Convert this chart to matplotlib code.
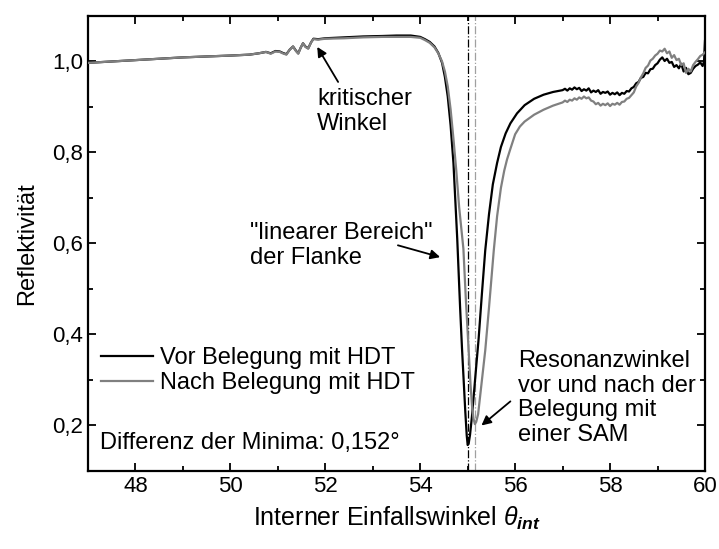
import matplotlib
matplotlib.use("Agg")
import matplotlib.pyplot as plt
from matplotlib.ticker import MultipleLocator, FuncFormatter
from matplotlib.lines import Line2D

plt.rcParams['font.family'] = ['Liberation Sans', 'DejaVu Sans']
plt.rcParams['mathtext.fontset'] = 'custom'
plt.rcParams['mathtext.rm'] = 'Liberation Sans'
plt.rcParams['mathtext.it'] = 'Liberation Sans:italic'
plt.rcParams['mathtext.bf'] = 'Liberation Sans:bold'
plt.rcParams['mathtext.bfit'] = 'Liberation Sans:bold:italic'

# Reflectivity before HDT coating (angle in degrees, reflectivity)
angle_before = [
    47.0, 47.5, 48.0, 48.5, 49.0, 49.5, 50.0, 50.4, 50.6, 50.75, 50.85, 50.95,
    51.04, 51.1, 51.18, 51.25, 51.32, 51.38, 51.43, 51.48, 51.53, 51.58, 51.64,
    51.7, 51.75, 51.85, 52.0, 52.4, 52.8, 53.2, 53.5, 53.8, 54.0, 54.1, 54.2,
    54.3, 54.38, 54.46, 54.52, 54.58, 54.64, 54.70, 54.78, 54.84, 54.88, 54.92,
    54.95, 54.98, 55.0, 55.02, 55.05, 55.09, 55.13, 55.18, 55.23, 55.30, 55.37,
    55.45, 55.53, 55.62, 55.70, 55.80, 55.90, 56.04, 56.2, 56.4, 56.6, 56.8,
    57.0, 57.05, 57.1, 57.15, 57.2, 57.25, 57.3, 57.35, 57.4, 57.45, 57.5,
    57.55, 57.6, 57.65, 57.7, 57.75, 57.8, 57.85, 57.9, 57.95, 58.0, 58.05,
    58.1, 58.15, 58.2, 58.25, 58.3, 58.35, 58.4, 58.45, 58.5, 58.55, 58.6,
    58.65, 58.7, 58.75, 58.8, 58.85, 58.9, 58.95, 59.0, 59.05, 59.1, 59.15,
    59.2, 59.25, 59.3, 59.35, 59.4, 59.45, 59.5, 59.55, 59.6, 59.65, 59.7,
    59.75, 59.8, 59.85, 59.9, 59.95, 59.98, 60.0,
]
refl_before = [
    0.997, 1.000, 1.003, 1.006, 1.009, 1.011, 1.013, 1.015, 1.018, 1.021, 1.018, 1.023,
    1.022, 1.019, 1.016, 1.026, 1.033, 1.024, 1.018, 1.030, 1.040, 1.033, 1.029,
    1.042, 1.050, 1.049, 1.051, 1.053, 1.055, 1.056, 1.057, 1.057, 1.054, 1.049, 1.043,
    1.033, 1.019, 0.997, 0.966, 0.923, 0.860, 0.777, 0.610, 0.460, 0.370, 0.290,
    0.230, 0.178, 0.157, 0.160, 0.180, 0.220, 0.270, 0.330, 0.390, 0.490, 0.585,
    0.665, 0.730, 0.777, 0.812, 0.842, 0.864, 0.886, 0.904, 0.918, 0.927, 0.933,
    0.937, 0.940, 0.936, 0.941, 0.938, 0.943, 0.939, 0.942, 0.935, 0.939, 0.936,
    0.941, 0.932, 0.936, 0.933, 0.937, 0.929, 0.933, 0.931, 0.934, 0.927, 0.931,
    0.928, 0.932, 0.926, 0.931, 0.929, 0.935, 0.934, 0.941, 0.944, 0.952, 0.955,
    0.964, 0.966, 0.975, 0.974, 0.983, 0.984, 0.992, 0.996, 1.004, 1.009, 1.001,
    1.006, 0.997, 0.999, 0.988, 0.992, 0.985, 0.995, 0.978, 0.986, 0.972, 0.975,
    0.984, 0.990, 0.993, 0.998, 0.990, 1.000, 1.045,
]

# Reflectivity after HDT coating
angle_after = [
    47.0, 47.5, 48.0, 48.5, 49.0, 49.5, 50.0, 50.4, 50.6, 50.75, 50.85, 50.95,
    51.04, 51.1, 51.18, 51.25, 51.32, 51.38, 51.43, 51.48, 51.53, 51.58, 51.64,
    51.7, 51.75, 51.85, 52.0, 52.4, 52.8, 53.2, 53.5, 53.8, 54.0, 54.1, 54.2,
    54.3, 54.38, 54.46, 54.52, 54.58, 54.64, 54.70, 54.76, 54.82, 54.86, 54.91,
    54.96, 55.02, 55.06, 55.09, 55.12, 55.152, 55.18, 55.22, 55.30, 55.37, 55.45,
    55.55, 55.62, 55.70, 55.77, 55.83, 55.90, 56.0, 56.1, 56.2, 56.4, 56.6, 56.8,
    57.0, 57.05, 57.1, 57.15, 57.2, 57.25, 57.3, 57.35, 57.4, 57.45, 57.5,
    57.55, 57.6, 57.65, 57.7, 57.75, 57.8, 57.85, 57.9, 57.95, 58.0, 58.05,
    58.1, 58.15, 58.2, 58.25, 58.3, 58.35, 58.4, 58.45, 58.5, 58.55, 58.6,
    58.65, 58.7, 58.75, 58.8, 58.85, 58.9, 58.95, 59.0, 59.05, 59.1, 59.15,
    59.2, 59.25, 59.3, 59.35, 59.4, 59.45, 59.5, 59.55, 59.6, 59.65, 59.7,
    59.75, 59.8, 59.85, 59.9, 59.95, 60.0,
]
refl_after = [
    0.997, 1.000, 1.003, 1.006, 1.009, 1.011, 1.013, 1.015, 1.018, 1.021, 1.017, 1.022,
    1.021, 1.018, 1.015, 1.026, 1.033, 1.023, 1.017, 1.030, 1.040, 1.032, 1.028,
    1.042, 1.049, 1.048, 1.050, 1.051, 1.053, 1.054, 1.054, 1.054, 1.052, 1.047, 1.041,
    1.031, 1.018, 1.000, 0.978, 0.945, 0.895, 0.830, 0.760, 0.680, 0.640, 0.588,
    0.480, 0.365, 0.290, 0.245, 0.216, 0.203, 0.208, 0.225, 0.300, 0.365, 0.460,
    0.585, 0.660, 0.722, 0.760, 0.785, 0.808, 0.840, 0.857, 0.868, 0.883, 0.894, 0.903,
    0.910, 0.914, 0.911, 0.916, 0.914, 0.919, 0.916, 0.921, 0.918, 0.923, 0.919,
    0.921, 0.914, 0.912, 0.906, 0.909, 0.903, 0.907, 0.904, 0.908, 0.902, 0.907,
    0.905, 0.909, 0.905, 0.911, 0.912, 0.918, 0.920, 0.926, 0.932, 0.945, 0.953,
    0.965, 0.974, 0.986, 0.991, 1.002, 1.006, 1.013, 1.017, 1.024, 1.022, 1.028,
    1.018, 1.022, 1.008, 1.014, 1.003, 1.006, 0.992, 0.996, 0.975, 0.984, 0.978,
    0.992, 0.999, 1.005, 1.012, 1.015, 1.020,
]

# Resonance angles (minima) before / after
min_before = 55.0
min_after = 55.152

label_before = "Vor Belegung mit HDT"
label_after = "Nach Belegung mit HDT"
diff_text = "Differenz der Minima: 0,152°"

fig = plt.figure(figsize=(7.19, 5.49), dpi=100)
ax = fig.add_axes([0.1224, 0.1421, 0.8581, 0.8288])

ax.plot(angle_before, refl_before, color='black', lw=1.6, zorder=3)
ax.plot(angle_after, refl_after, color='#808080', lw=1.6, zorder=4)

ax.axvline(min_before, color='black', lw=0.9, ls='-.', zorder=2)
ax.axvline(min_after, color='#a0a0a0', lw=0.9, ls='-.', zorder=2)

ax.set_xlim(47, 60)
ax.set_ylim(0.1, 1.1)

ax.xaxis.set_major_locator(MultipleLocator(2))
ax.xaxis.set_minor_locator(MultipleLocator(1))
ax.yaxis.set_major_locator(MultipleLocator(0.2))
ax.yaxis.set_minor_locator(MultipleLocator(0.1))
ax.yaxis.set_major_formatter(FuncFormatter(lambda v, p: f"{v:.1f}".replace('.', ',')))
ax.xaxis.set_major_formatter(FuncFormatter(lambda v, p: f"{v:.0f}"))

ax.tick_params(which='both', direction='in', top=True, right=True, width=1.3,
               labelsize=16)
ax.tick_params(which='major', length=6)
ax.tick_params(which='minor', length=3.5)
for s in ax.spines.values():
    s.set_linewidth(1.6)

ax.set_ylabel("Reflektivität", fontsize=17, labelpad=10)
ax.set_xlabel(r"Interner Einfallswinkel $\theta_{\mathbfit{int}}$", fontsize=18, labelpad=6)

handles = [Line2D([], [], color='black', lw=1.6), Line2D([], [], color='#808080', lw=1.6)]
ax.legend(handles, [label_before, label_after], loc='upper left',
          bbox_to_anchor=(0.021, 0.272), frameon=False, fontsize=17,
          handlelength=2.2, handletextpad=0.3, labelspacing=0.12,
          borderpad=0, borderaxespad=0)

ax.text(47.26, 0.162, diff_text, fontsize=17, ha='left', va='center')

ax.text(51.83, 0.89, "kritischer\nWinkel", fontsize=17, ha='left', va='center',
        linespacing=1.15)
ax.annotate('', xy=(51.83, 1.032), xytext=(52.27, 0.955),
            arrowprops=dict(arrowstyle='-|>', color='black', lw=1.3,
                            mutation_scale=14, shrinkA=0, shrinkB=0))

ax.text(50.41, 0.596, '"linearer Bereich"\nder Flanke', fontsize=17, ha='left',
        va='center', linespacing=1.15)
ax.annotate('', xy=(54.42, 0.570), xytext=(53.53, 0.596),
            arrowprops=dict(arrowstyle='-|>', color='black', lw=1.3,
                            mutation_scale=14, shrinkA=0, shrinkB=0))

ax.text(56.07, 0.26, "Resonanzwinkel\nvor und nach der\nBelegung mit\neiner SAM",
        fontsize=17, ha='left', va='center', linespacing=1.15)
ax.annotate('', xy=(55.29, 0.20), xytext=(55.90, 0.253),
            arrowprops=dict(arrowstyle='-|>', color='black', lw=1.3,
                            mutation_scale=14, shrinkA=0, shrinkB=0))

fig.savefig("out.png", dpi=100)
